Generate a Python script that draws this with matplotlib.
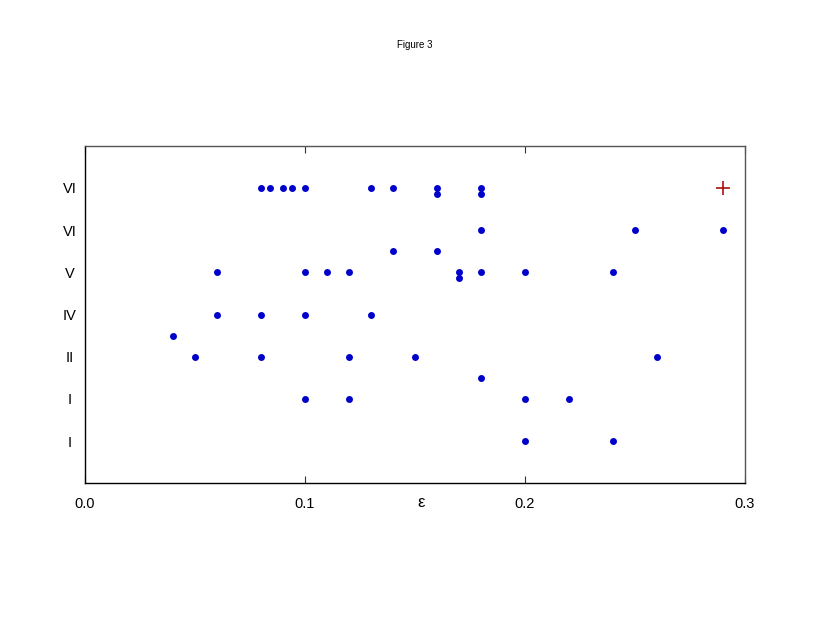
import matplotlib
matplotlib.use("Agg")
import matplotlib.pyplot as plt

plt.rcParams['font.family'] = ['Liberation Sans', 'DejaVu Sans']

# tick labels for rows (bottom to top)
row_labels = ["I", "I", "II", "IV", "V", "VI", "VI"]
row_positions = [1, 2, 3, 4, 5, 6, 7]
x_ticks = [0.0, 0.1, 0.2, 0.3]
x_ticklabels = ["0.0", "0.1", "0.2", "0.3"]

# blue points: epsilon values and row positions
eps = [0.08, 0.084, 0.09, 0.094, 0.10, 0.13, 0.14, 0.16, 0.18,
       0.16, 0.18,
       0.18, 0.25, 0.29,
       0.14, 0.16,
       0.06, 0.10, 0.11, 0.12, 0.17, 0.18, 0.20, 0.24,
       0.17,
       0.06, 0.08, 0.10, 0.13,
       0.04,
       0.05, 0.08, 0.12, 0.15, 0.26,
       0.18,
       0.10, 0.12, 0.20, 0.22,
       0.20, 0.24]
row = [7, 7, 7, 7, 7, 7, 7, 7, 7,
       6.85, 6.85,
       6, 6, 6,
       5.5, 5.5,
       5, 5, 5, 5, 5, 5, 5, 5,
       4.86,
       4, 4, 4, 4,
       3.5,
       3, 3, 3, 3, 3,
       2.5,
       2, 2, 2, 2,
       1, 1]

# red plus marker
plus_eps = [0.29]
plus_row = [7]

fig = plt.figure(figsize=(8.3, 6.42), dpi=100)
ax = fig.add_axes([0.1024, 0.2472, 0.7952, 0.5258])

ax.plot(eps, row, linestyle='none', marker='o', markersize=5,
        color='#0000CC', markeredgewidth=0)
ax.plot(plus_eps, plus_row, linestyle='none', marker='+', markersize=10,
        color='#AA1111', markeredgewidth=1.2)

ax.set_xlim(0, 0.3)
ax.set_ylim(0, 8)
ax.set_xticks(x_ticks)
ax.set_xticklabels(x_ticklabels, fontsize=10.5)
ax.set_yticks(row_positions)
ax.set_yticklabels(row_labels, fontsize=10.5)
for lab in ax.get_yticklabels():
    lab.set_ha('center')
ax.tick_params(axis='x', direction='in', top=True, bottom=True, length=5,
               pad=10, width=0.8, colors='#333333', labelcolor='black')
ax.tick_params(axis='y', length=0, pad=10.8)

for s in ['left', 'bottom']:
    ax.spines[s].set_color('black')
    ax.spines[s].set_linewidth(1.0)
for s in ['top', 'right']:
    ax.spines[s].set_color('#555555')
    ax.spines[s].set_linewidth(1.0)

ax.set_xlabel('ε', fontsize=12)
ax.xaxis.set_label_coords(0.509, -0.035)

fig.text(0.5, 0.93, 'Figure 3', ha='center', va='center', fontsize=7)

fig.savefig('out.png', dpi=100)
